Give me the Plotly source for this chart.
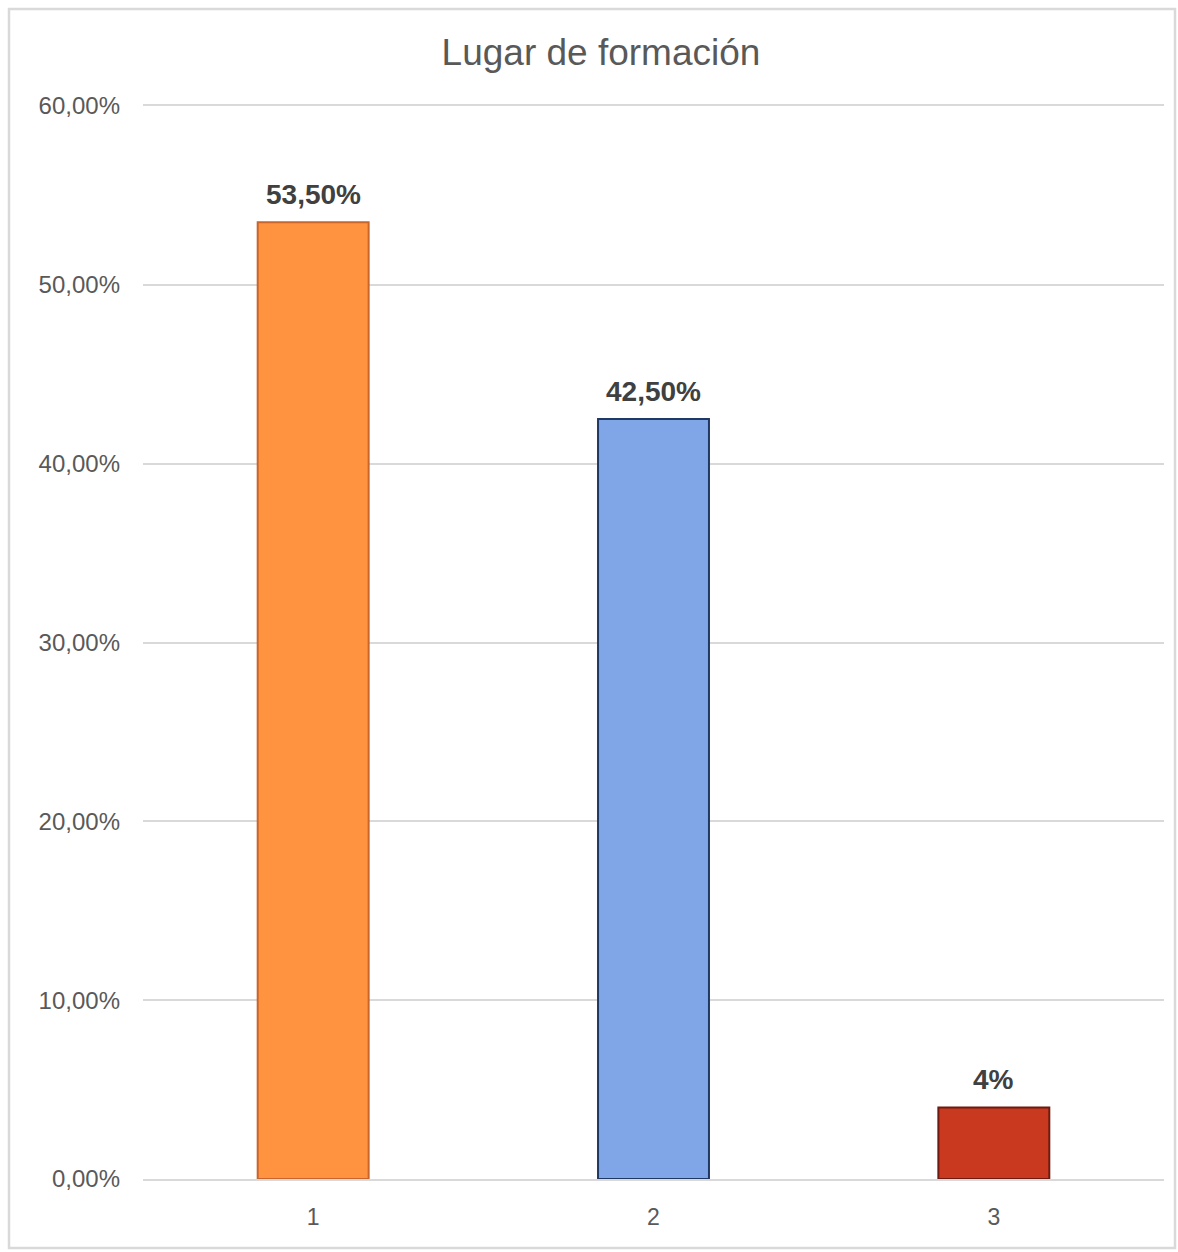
import plotly.graph_objects as go

categories = ["1", "2", "3"]
values = [53.5, 42.5, 4.0]
value_labels = ["53,50%", "42,50%", "4%"]
bar_colors = ["#FF9340", "#80A6E8", "#C8391F"]
bar_lines = ["#C9652A", "#1F3864", "#6E1A10"]
y_ticks = [0, 10, 20, 30, 40, 50, 60]
y_tick_labels = ["0,00%", "10,00%", "20,00%", "30,00%", "40,00%", "50,00%", "60,00%"]

W, H = 1178, 1252
L, R, T, B = 143, 14, 106, 73
pw, ph = W - L - R, H - T - B

def px_x(x):
    return (x - L) / pw

def px_y(y):
    return (H - B - y) / ph

FONT = "Liberation Sans, Arial"

fig = go.Figure()
fig.add_trace(go.Bar(
    x=categories, y=values,
    width=0.326,
    marker=dict(color=bar_colors, line=dict(color=bar_lines, width=2)),
    hoverinfo="skip",
))

for i, (v, t) in enumerate(zip(values, value_labels)):
    fig.add_annotation(x=i, y=v, text=t, showarrow=False, yanchor="bottom",
                       yshift=10,
                       font=dict(family=FONT, size=28, color="#404040", weight="bold"))

fig.update_layout(
    width=W, height=H,
    margin=dict(l=L, r=R, t=T, b=B),
    paper_bgcolor="white", plot_bgcolor="white",
    showlegend=False,
    title=dict(text="Lugar de formación", x=601 / W, xanchor="center",
               y=1 - 52 / H, yanchor="middle",
               font=dict(family=FONT, size=37, color="#595959")),
    xaxis=dict(type="category", range=[-0.5, 2.5], showgrid=False,
               showline=True, mirror=True, linecolor="#D9D9D9", linewidth=2,
               ticks="", tickfont=dict(family=FONT, size=23, color="#595959"),
               ticklabelstandoff=16, zeroline=False),
    yaxis=dict(range=[0, 60], tickvals=y_ticks, ticktext=y_tick_labels,
               showgrid=True, gridcolor="#D9D9D9", gridwidth=1.5,
               zeroline=False, showline=False, ticks="",
               tickfont=dict(family=FONT, size=24, color="#595959"),
               ticklabelstandoff=22),
)

fig.add_shape(type="rect", xref="paper", yref="paper",
              x0=px_x(9), x1=px_x(1175), y0=px_y(1248), y1=px_y(9),
              line=dict(color="#D9D9D9", width=2.5), layer="below")

fig.write_html("out.html", config={"displayModeBar": False},
               post_script="document.body.style.margin='0';")
